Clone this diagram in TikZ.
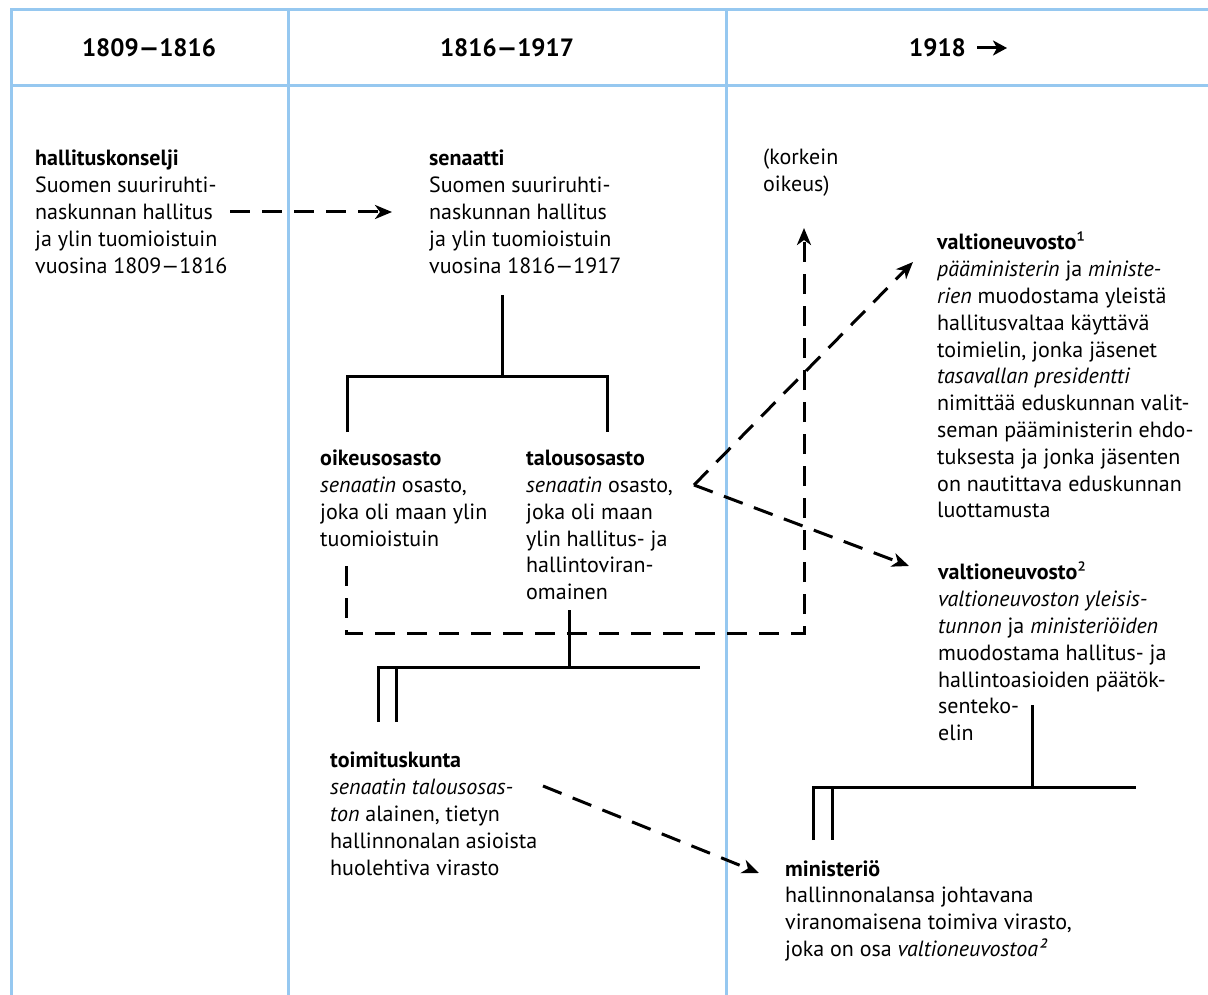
\documentclass[tikz,border=0pt]{standalone}
\usepackage{fontspec}
\setmainfont{PT Sans}
\usetikzlibrary{arrows.meta}
\definecolor{gridblue}{RGB}{150,200,240}
\begin{document}
\begin{tikzpicture}[x=1pt,y=-1pt,
  grid/.style={draw=gridblue,line width=3pt},
  txt/.style={anchor=north west,inner sep=0pt,align=left,font=\fontsize{22}{26.8}\selectfont},
  hdr/.style={inner sep=0pt,font=\fontsize{25}{28}\selectfont\bfseries},
  tree/.style={draw=black,line width=3pt},
  dsh/.style={draw=black,line width=3pt,dash pattern=on 20pt off 12pt},
  arr/.style={-{Stealth[length=17pt,width=14pt,inset=5pt]}}
]
\fill[white] (0,0) rectangle (1208,995);
\useasboundingbox (0,0) rectangle (1208,995);
% grid
\draw[grid] (10,10) -- (1208,10);
\draw[grid] (10,86) -- (1208,86);
\draw[grid] (11,10) -- (11,995);
\draw[grid] (288,10) -- (288,995);
\draw[grid] (726,10) -- (726,995);
% header
\node[hdr] (h1) at (149,48) {1809—1816};
\node[hdr] (h2) at (507,48) {1816—1917};
\node[hdr,anchor=west] (h3) at (909,48) {1918};
\coordinate (h3a) at (977,48);
\coordinate (h3b) at (1007,48);
\draw[line width=3pt,-{Stealth[length=14pt,width=15pt,inset=4pt]}] (h3a) -- (h3b);
% text blocks
\node[txt] (hk) at (35,150) {\textbf{hallituskonselji}\\Suomen suuriruhti-\\naskunnan hallitus\\ja ylin tuomioistuin\\vuosina 1809—1816};
\node[txt] (sen) at (429,150) {\textbf{senaatti}\\Suomen suuriruhti-\\naskunnan hallitus\\ja ylin tuomioistuin\\vuosina 1816—1917};
\node[txt] (ko) at (763,149) {(korkein\\oikeus)};
\node[txt] (vn1) at (937,232) {\textbf{valtioneuvosto}{\mdseries ¹}\\\textit{pääministerin} ja \textit{ministe-}\\\textit{rien} muodostama yleistä\\hallitusvaltaa käyttävä\\toimielin, jonka jäsenet\\\textit{tasavallan presidentti}\\nimittää eduskunnan valit-\\seman pääministerin ehdo-\\tuksesta ja jonka jäsenten\\on nautittava eduskunnan\\luottamusta};
\node[txt] (oik) at (320,450) {\textbf{oikeusosasto}\\\textit{senaatin} osasto,\\joka oli maan ylin\\tuomioistuin};
\node[txt] (tal) at (526,450) {\textbf{talousosasto}\\\textit{senaatin} osasto,\\joka oli maan\\ylin hallitus- ja\\hallintoviran-\\omainen};
\node[txt] (vn2) at (938,562) {\textbf{valtioneuvosto}{\mdseries ²}\\\textit{valtioneuvoston yleisis-}\\\textit{tunnon} ja \textit{ministeriöiden}\\muodostama hallitus- ja\\hallintoasioiden päätök-\\senteko-\\elin};
\node[txt] (tk) at (330,752) {\textbf{toimituskunta}\\\textit{senaatin talousosas-}\\\textit{ton} alainen, tietyn\\hallinnonalan asioista\\huolehtiva virasto};
\node[txt] (min) at (785,860) {\textbf{ministeriö}\\hallinnonalansa johtavana\\viranomaisena toimiva virasto,\\joka on osa \textit{valtioneuvostoa²}};
% coordinates
\coordinate (a1s) at (230,212);
\coordinate (a1e) at (392,212);
\coordinate (senB) at (502,295);
\coordinate (senJ) at (502,376);
\coordinate (brL) at (347,376);
\coordinate (brR) at (607,376);
\coordinate (brLd) at (347,432);
\coordinate (brRd) at (607,432);
\coordinate (oD) at (346,566);
\coordinate (oC) at (346,633);
\coordinate (kC) at (804,633);
\coordinate (kT) at (804,228);
\coordinate (tB) at (569,610);
\coordinate (tJ) at (569,667);
\coordinate (tL) at (378,667);
\coordinate (tR) at (700,667);
\coordinate (tL2) at (396,667);
\coordinate (tLd) at (378,722);
\coordinate (tL2d) at (396,722);
\coordinate (vx) at (694,485);
\coordinate (v1) at (913,262);
\coordinate (v2) at (909,566);
\coordinate (v2B) at (1032,705);
\coordinate (v2J) at (1032,787);
\coordinate (mL) at (813,787);
\coordinate (mR) at (1136,787);
\coordinate (mL2) at (832,787);
\coordinate (mLd) at (813,840);
\coordinate (mL2d) at (832,840);
\coordinate (tkS) at (543,786);
\coordinate (tkE) at (759,873);
% connectors
\draw[dsh,arr] (a1s) -- (a1e);
\draw[tree] (senB) -- (senJ);
\draw[tree] (brLd) -- (brL) -- (brR) -- (brRd);
\draw[dsh,arr] (oD) -- (oC) -- (kC) -- (kT);
\draw[tree] (tB) -- (tJ);
\draw[tree] (tLd) -- (tL) -- (tR);
\draw[tree] (tL2) -- (tL2d);
\draw[dsh,arr] (vx) -- (v1);
\draw[dsh,arr] (vx) -- (v2);
\draw[tree] (v2B) -- (v2J);
\draw[tree] (mLd) -- (mL) -- (mR);
\draw[tree] (mL2) -- (mL2d);
\draw[dsh,arr] (tkS) -- (tkE);
\end{tikzpicture}
\end{document}
